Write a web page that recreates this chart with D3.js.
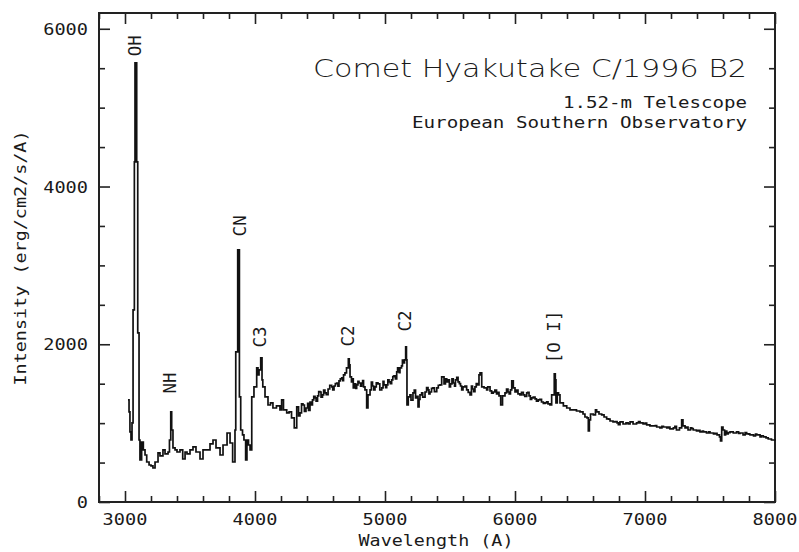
<!DOCTYPE html>
<html>
<head>
<meta charset="utf-8">
<script src="https://cdn.jsdelivr.net/npm/d3@7"></script>
<style>
  html, body { margin: 0; padding: 0; background: #fff; }
  svg { display: block; }
  text { fill: #1a1a1a; font-family: "DejaVu Sans Mono", "Liberation Mono", monospace; }
</style>
</head>
<body>
<svg id="chart" width="799" height="552"></svg>
<script>
// ---- data ----
const wavelengths = [3023,3031,3038,3046,3054,3062,3072,3077,3085,3090,3098,3108,3115,3128,3141,3154,3167,3185,3200,3215,
3231,3254,3269,3292,3308,3331,3342,3352,3359,3369,3385,3400,3423,3444,3462,3477,3500,3523,3546,3577,
3600,3631,3654,3677,3700,3731,3754,3785,3808,3828,3846,3852,3867,3875,3880,3890,3904,3915,3928,3938,
3950,3962,3975,3992,4013,4023,4031,4044,4054,4060,4077,4100,4119,4138,4165,4192,4205,4219,4244,4262,
4281,4302,4321,4335,4346,4358,4369,4392,4423,4442,4462,4481,4500,4519,4538,4562,4590,4608,4629,4646,
4667,4681,4692,4704,4718,4725,4731,4742,4756,4769,4782,4800,4821,4835,4846,4859,4869,4885,4904,4923,
4946,4975,4992,5013,5031,5051,5069,5090,5104,5115,5127,5141,5150,5159,5165,5169,5179,5192,5215,5235,
5254,5269,5282,5308,5331,5346,5369,5398,5423,5436,5454,5475,5485,5504,5525,5542,5562,5581,5600,5628,
5654,5673,5692,5712,5723,5731,5744,5762,5782,5808,5833,5858,5877,5890,5904,5923,5946,5965,5975,5987,
6000,6023,6038,6064,6090,6108,6128,6154,6179,6204,6231,6254,6269,6282,6295,6302,6310,6315,6325,6335,
6346,6372,6398,6423,6449,6473,6500,6523,6538,6554,6564,6572,6581,6602,6619,6628,6646,6667,6685,6705,
6731,6754,6785,6808,6831,6854,6885,6908,6935,6962,6985,7013,7038,7065,7090,7115,7142,7167,7192,7218,
7242,7265,7282,7292,7308,7331,7350,7371,7396,7423,7450,7473,7500,7527,7554,7573,7581,7590,7600,7612,
7629,7654,7679,7704,7731,7754,7782,7808,7835,7860,7885,7910,7931,7948,7973,8000];
const intensities = [1294,1142,888,786,1002,2436,4313,5569,5569,4313,2144,786,533,761,660,596,507,469,457,431,
507,622,584,660,609,634,786,1142,913,685,660,634,660,545,634,609,660,698,634,545,
660,660,736,786,685,596,723,875,748,507,913,1903,3197,3197,1332,913,850,786,533,786,
723,660,1332,1459,1700,1611,1674,1827,1548,1459,1332,1230,1256,1192,1218,1167,1294,1167,1129,1142,
1066,939,1205,1091,1129,1243,1230,1192,1268,1294,1319,1345,1395,1357,1383,1433,1459,1471,1509,1535,
1573,1611,1636,1700,1814,1738,1586,1522,1446,1497,1484,1509,1509,1459,1421,1192,1357,1421,1471,1459,
1497,1446,1484,1484,1522,1548,1598,1649,1674,1700,1725,1763,1801,1966,1801,1230,1332,1357,1383,1319,
1205,1357,1383,1395,1421,1395,1446,1446,1484,1586,1497,1522,1548,1497,1509,1548,1522,1471,1459,1421,
1357,1433,1459,1484,1611,1636,1459,1446,1421,1408,1395,1370,1345,1230,1345,1383,1395,1421,1535,1446,
1395,1370,1357,1357,1383,1345,1319,1307,1294,1268,1256,1243,1230,1357,1357,1624,1548,1256,1383,1357,
1256,1218,1192,1167,1167,1154,1142,1116,1078,1066,901,1040,1116,1104,1167,1142,1116,1104,1078,1053,
1027,1015,1002,1015,989,1002,1015,989,1002,1002,989,977,964,964,951,939,951,939,926,939,
913,939,1040,964,939,913,939,913,901,888,888,875,875,863,850,825,774,951,913,850,
863,888,875,888,875,850,863,850,837,850,825,825,812,799,786,774];

// finer noise wiggles read between the main samples
const detailWavelengths = [4380,4405,4412,4432,4452,4470,4490,4508,4528,4548,4575,4598,4618,4638,4656,4674,
4750,4775,4792,4812,4828,4895,4913,4933,4960,4985,5005,5022,5041,5060,5080,5097,5110,5134,
5200,5225,5245,5262,5290,5320,5338,5358,5380,5410,
5465,5495,5515,5535,5552,5572,5590,5615,5640,5665,5682,5702,
5790,5820,5845,5868,5935,5955,6010,6050,6075,6098,6118,6140,6165,6190,6218,6243,
6720,6770,6795,6870,6950,7000,7080,7130,7180,7230,7320,7360,7410,7440,7490,7540,7620,7640,7670,7720,7770,7800,7850,7895];
const detailIntensities = [1150,1250,1160,1230,1340,1280,1400,1330,1420,1360,1480,1420,1500,1470,1560,1540,
1560,1440,1530,1470,1540,1520,1420,1510,1420,1530,1450,1550,1500,1590,1560,1700,1640,1800,
1290,1420,1340,1300,1330,1450,1370,1440,1400,1480,
1560,1460,1560,1470,1580,1500,1420,1470,1390,1470,1400,1500,
1460,1380,1420,1390,1430,1370,1420,1390,1340,1390,1300,1330,1280,1300,1250,1270,
1050,1020,980,990,1020,1000,970,960,950,960,950,930,910,900,890,870,900,880,890,870,880,860,860,840];

const xMajorTicks = [3000, 4000, 5000, 6000, 7000, 8000];
const yMajorTicks = [0, 2000, 4000, 6000];

const lineNames = ["OH", "NH", "CN", "C3", "C2", "C2", "[O I]"];
const lineWavelengths = [3077, 3346, 3885, 4038, 4715, 5154, 6300];
const lineLabelIntensity = [5784, 1510, 3501, 2093, 2106, 2296, 2093];

const titleText = "Comet Hyakutake C/1996 B2";
const subtitleLines = ["1.52-m Telescope", "European Southern Observatory"];
const xAxisTitle = "Wavelength (A)";
const yAxisTitle = "Intensity (erg/cm2/s/A)";

// ---- layout ----
const svg = d3.select("#chart");
const L = 99, R = 775, T = 13, B = 502;
const x = d3.scaleLinear().domain([2800, 8000]).range([L, R]);
const y = d3.scaleLinear().domain([0, 6200]).range([B, T]);

const xMinor = d3.range(2800, 8001, 200).filter(v => !xMajorTicks.includes(v));
const yMinor = d3.range(0, 6201, 500).filter(v => !yMajorTicks.includes(v));

const tickStyle = g => {
  g.select(".domain").remove();
  g.selectAll(".tick line").attr("stroke", "#222").attr("stroke-width", 1.6);
  g.selectAll(".tick text").remove();
};

// ticks (inward, all four sides)
svg.append("g").attr("transform", `translate(0,${B})`)
  .call(d3.axisBottom(x).tickValues(xMajorTicks).tickSize(-11)).call(tickStyle);
svg.append("g").attr("transform", `translate(0,${B})`)
  .call(d3.axisBottom(x).tickValues(xMinor).tickSize(-6)).call(tickStyle);
svg.append("g").attr("transform", `translate(0,${T})`)
  .call(d3.axisTop(x).tickValues(xMajorTicks).tickSize(-11)).call(tickStyle);
svg.append("g").attr("transform", `translate(0,${T})`)
  .call(d3.axisTop(x).tickValues(xMinor).tickSize(-6)).call(tickStyle);
svg.append("g").attr("transform", `translate(${L},0)`)
  .call(d3.axisLeft(y).tickValues(yMajorTicks).tickSize(-11)).call(tickStyle);
svg.append("g").attr("transform", `translate(${L},0)`)
  .call(d3.axisLeft(y).tickValues(yMinor).tickSize(-6)).call(tickStyle);
svg.append("g").attr("transform", `translate(${R},0)`)
  .call(d3.axisRight(y).tickValues(yMajorTicks).tickSize(-11)).call(tickStyle);
svg.append("g").attr("transform", `translate(${R},0)`)
  .call(d3.axisRight(y).tickValues(yMinor).tickSize(-6)).call(tickStyle);

// frame
svg.append("rect").attr("x", L).attr("y", T).attr("width", R - L).attr("height", B - T)
  .attr("fill", "none").attr("stroke", "#222").attr("stroke-width", 2);

// tick labels
svg.append("g").selectAll("text").data(xMajorTicks).join("text")
  .attr("x", d => x(d)).attr("y", 525).attr("text-anchor", "middle")
  .attr("font-size", 16.5)
  .attr("textLength", d => String(d).length * 11.2).attr("lengthAdjust", "spacingAndGlyphs")
  .text(d => d);
svg.append("g").selectAll("text").data(yMajorTicks).join("text")
  .attr("x", 88).attr("y", d => y(d) + 6).attr("text-anchor", "end")
  .attr("font-size", 16.5)
  .attr("textLength", d => String(d).length * 11.2).attr("lengthAdjust", "spacingAndGlyphs")
  .text(d => d);

// axis titles
svg.append("text").attr("x", 436).attr("y", 546).attr("text-anchor", "middle")
  .attr("font-size", 16.5).attr("textLength", 155).attr("lengthAdjust", "spacingAndGlyphs")
  .text(xAxisTitle);
svg.append("text").attr("transform", "translate(26,258) rotate(-90)").attr("text-anchor", "middle")
  .attr("font-size", 16.5).attr("textLength", 255).attr("lengthAdjust", "spacingAndGlyphs")
  .text(yAxisTitle);

// title block
svg.append("text").attr("x", 747).attr("y", 77).attr("text-anchor", "end")
  .attr("font-size", 25).attr("font-weight", 200)
  .style("font-family", "'DejaVu Sans', sans-serif")
  .attr("textLength", 434).attr("lengthAdjust", "spacingAndGlyphs")
  .text(titleText);
svg.append("text").attr("x", 747).attr("y", 108).attr("text-anchor", "end")
  .attr("font-size", 16).attr("textLength", 184).attr("lengthAdjust", "spacingAndGlyphs")
  .text(subtitleLines[0]);
svg.append("text").attr("x", 747).attr("y", 128).attr("text-anchor", "end")
  .attr("font-size", 16).attr("textLength", 335).attr("lengthAdjust", "spacingAndGlyphs")
  .text(subtitleLines[1]);

// spectrum (main samples + detail samples, ordered by wavelength)
const pts = wavelengths.map((w, i) => [w, intensities[i]])
  .concat(detailWavelengths.map((w, i) => [w, detailIntensities[i]]))
  .sort((a, b) => a[0] - b[0]);
svg.append("path").datum(pts)
  .attr("fill", "none").attr("stroke", "#111").attr("stroke-width", 1.7)
  .attr("stroke-linejoin", "miter")
  .attr("d", d3.line().x(d => x(d[0])).y(d => y(d[1])).curve(d3.curveStepAfter));

// line identifications
svg.append("g").selectAll("text").data(lineNames).join("text")
  .attr("transform", (d, i) => `translate(${x(lineWavelengths[i])},${y(lineLabelIntensity[i])}) rotate(-90)`)
  .attr("text-anchor", "middle").attr("dy", "0.36em")
  .attr("font-size", 17.5)
  .text(d => d);
</script>
</body>
</html>
